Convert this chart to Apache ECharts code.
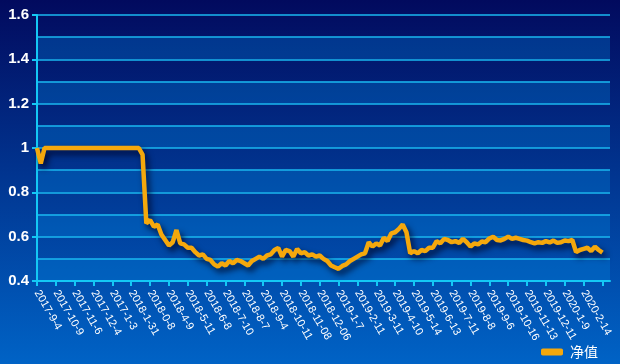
<!DOCTYPE html>
<html>
<head>
<meta charset="utf-8">
<script src="https://cdn.jsdelivr.net/npm/echarts@6/dist/echarts.min.js"></script>
<style>
html,body{margin:0;padding:0;}
#c{width:620px;height:364px;}
</style>
</head>
<body>
<div id="c"></div>
<script>
// Tick labels (one per labelled tick)
var tickLabels = ['2017-9-4','2017-10-9','2017-11-6','2017-12-4','2017-1-3','2018-1-31','2018-0-8','2018-4-9','2018-5-11','2018-6-8','2018-7-10','2018-8-7','2018-9-4','2018-10-11','2018-11-08','2018-12-06','2019-1-7','2019-2-11','2019-3-11','2019-4-10','2019-5-14','2019-6-13','2019-7-11','2019-8-8','2019-9-6','2019-10-16','2019-11-13','2019-12-11','2020-1-9','2020-2-14'];
var pointsPerTick = 5;
var totalCategories = 153;
// Net value series
var netValue = [
1.0,0.93,1.0,1.0,1.0,1.0,1.0,1.0,1.0,1.0,
1.0,1.0,1.0,1.0,1.0,1.0,1.0,1.0,1.0,1.0,
1.0,1.0,1.0,1.0,1.0,1.0,1.0,1.0,0.97,0.66,
0.675,0.645,0.655,0.61,0.585,0.56,0.575,0.63,0.57,0.565,
0.55,0.55,0.53,0.515,0.52,0.5,0.495,0.475,0.465,0.48,
0.47,0.49,0.48,0.495,0.49,0.48,0.47,0.49,0.5,0.51,
0.5,0.515,0.52,0.54,0.549,0.51,0.54,0.535,0.51,0.545,
0.525,0.53,0.515,0.52,0.51,0.515,0.5,0.49,0.47,0.462,
0.455,0.468,0.475,0.49,0.5,0.51,0.52,0.525,0.575,0.555,
0.57,0.56,0.595,0.58,0.615,0.62,0.635,0.655,0.62,0.525,
0.535,0.525,0.54,0.535,0.55,0.55,0.58,0.57,0.59,0.585,
0.575,0.58,0.572,0.59,0.575,0.555,0.57,0.565,0.578,0.575,
0.592,0.6,0.585,0.583,0.59,0.6,0.59,0.595,0.59,0.585,
0.582,0.575,0.57,0.575,0.572,0.58,0.574,0.582,0.572,0.575,
0.583,0.58,0.585,0.53,0.54,0.545,0.55,0.535,0.555,0.54,
0.528
];
var seriesName = '净值';

var categories = [];
for (var i = 0; i < totalCategories; i++) {
  var t = Math.floor(i / pointsPerTick);
  if (i % pointsPerTick === 0) {
    categories.push(t < tickLabels.length ? tickLabels[t] : ' ');
  } else {
    categories.push('p' + i);
  }
}

var chart = echarts.init(document.getElementById('c'));
chart.setOption({
  animation: false,
  backgroundColor: new echarts.graphic.LinearGradient(0,0,0,1,[
    {offset:0,color:'#020a5e'},
    {offset:1,color:'#0063c6'}
  ]),
  grid: {left:37, right:10, top:15, bottom:83, containLabel:false},
  legend: {
    data:[seriesName], right:17, bottom:0,
    icon:'roundRect', itemWidth:22, itemHeight:7, itemGap:8,
    textStyle:{color:'#ffffff', fontSize:14, fontFamily:'Noto Sans CJK SC', padding:[0,0,0,2]}
  },
  xAxis: {
    type:'category', data:categories, boundaryGap:false,
    axisLine:{lineStyle:{color:'#14c8f5', width:2}},
    axisTick:{interval:pointsPerTick-1, length:5, lineStyle:{color:'#14c8f5', width:2}},
    axisLabel:{
      interval:pointsPerTick-1, rotate:-60, color:'#ffffff', fontSize:11, margin:10,
      fontFamily:'Liberation Sans',
      formatter:function(v){ return v.charAt(0)==='p' ? '' : v; }
    },
    splitLine:{show:false}
  },
  yAxis: [{
    type:'value', min:0.4, max:1.6, interval:0.2,
    axisLine:{show:true, lineStyle:{color:'#14c8f5', width:2}},
    axisTick:{show:true, length:5, lineStyle:{color:'#14c8f5', width:2}},
    axisLabel:{color:'#ffffff', fontSize:15, fontWeight:'bold', fontFamily:'Liberation Sans', margin:8},
    splitLine:{show:false}
  },{
    type:'value', min:0.4, max:1.6, interval:0.1, position:'left',
    axisLine:{show:false}, axisTick:{show:false}, axisLabel:{show:false},
    splitLine:{show:true, lineStyle:{color:'#1ab8f0', width:1.5}},
    splitArea:{show:true, areaStyle:{color:['rgba(0,140,230,0.30)','rgba(0,0,0,0)']}}
  }],
  series: [{
    name:seriesName, type:'line', data:netValue, yAxisIndex:0,
    showSymbol:false, symbol:'none',
    lineStyle:{color:'#f5a80c', width:4.5, shadowColor:'rgba(0,0,30,0.8)', shadowBlur:6, shadowOffsetY:4, shadowOffsetX:3},
    itemStyle:{color:'#f5a80c'}
  }]
});
</script>
</body>
</html>
